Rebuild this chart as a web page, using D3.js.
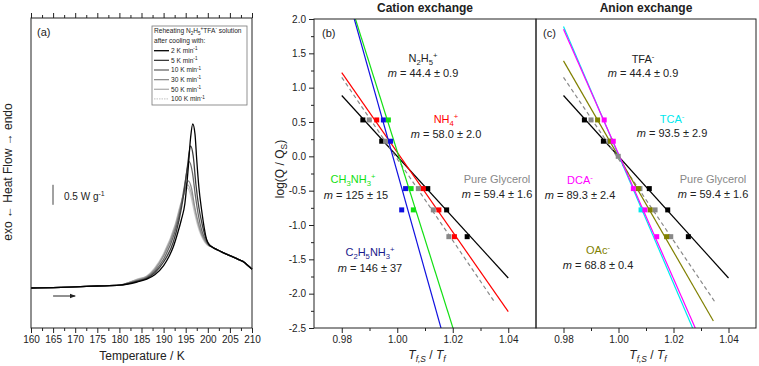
<!DOCTYPE html>
<html lang="en">
<head>
<meta charset="UTF-8">
<title>DSC reheating and ion exchange</title>
<script src="https://d3js.org/d3.v7.min.js"></script>
<style>
  body { margin: 0; background: #fff; }
  svg { font-family: "Liberation Sans", Arial, sans-serif; }
  .frame { fill: none; stroke: #222; stroke-width: 1; }
  .axis path { display: none; }
  .axis line { stroke: #222; }
  .axis text { font-size: 10px; fill: #222; font-family: "Liberation Sans", Arial, sans-serif; }
</style>
</head>
<body>
<svg id="chart" width="759" height="366"></svg>
<script>
    // ---- panel (a): DSC reheating curves, [T / K, heat flow / W g-1]
    const rateLabels = ["2", "5", "10", "30", "50", "100"];
    const tail = [[201.5, 0.99], [203, 0.91], [205, 0.81], [207, 0.71], [208.3, 0.64], [208.8, 0.59], [209.4, 0.53], [210, 0.47]];
    const curve2K = [[160, 0], [165, 0.01], [170, 0.03], [175, 0.05], [180, 0.07], [182, 0.1], [184, 0.15], [186.2, 0.22], [188, 0.33], [190, 0.56], [191.2, 0.78], [192.2, 1.03], [193.2, 1.38], [194, 1.7], [194.8, 2.1], [195.5, 2.9], [196.1, 3.75], [196.6, 4.1], [197.1, 3.85], [197.5, 3.2], [198, 2.5], [198.6, 1.95], [199.2, 1.5], [199.7, 1.22], [200.3, 1.08], [200.9, 1.03]];
    const curve5K = [[160, 0], [165, 0.01], [170, 0.03], [175, 0.05], [180, 0.07], [182, 0.11], [184, 0.17], [186.2, 0.24], [188, 0.38], [190, 0.65], [192.2, 1.15], [193.5, 1.7], [194.5, 2.3], [195.4, 3.05], [196.1, 3.55], [196.7, 3.3], [197.3, 2.6], [198, 2.0], [198.7, 1.6], [199.4, 1.3], [200.1, 1.12], [200.9, 1.03]];
    const curve10K = [[160, 0], [165, 0.01], [170, 0.03], [175, 0.05], [180, 0.07], [182, 0.12], [184, 0.18], [186.2, 0.26], [188, 0.42], [190, 0.72], [192.4, 1.35], [193.6, 1.85], [194.8, 2.6], [195.8, 3.16], [196.5, 2.9], [197.2, 2.3], [197.9, 1.8], [198.6, 1.45], [199.4, 1.22], [200.2, 1.08], [200.9, 1.03]];
    const curve30K = [[160, 0], [165, 0.01], [170, 0.03], [175, 0.05], [180, 0.07], [182, 0.13], [184, 0.2], [186.2, 0.28], [188, 0.46], [190, 0.8], [192.6, 1.5], [193.8, 2.0], [194.8, 2.45], [195.6, 2.68], [196.3, 2.5], [197, 2.05], [197.8, 1.65], [198.6, 1.35], [199.4, 1.18], [200.2, 1.07], [200.9, 1.03]];
    const curve50K = [[160, 0], [165, 0.01], [170, 0.03], [175, 0.05], [180, 0.07], [182, 0.13], [184, 0.21], [186.2, 0.29], [188, 0.48], [190, 0.83], [192.6, 1.55], [193.8, 2.05], [194.7, 2.4], [195.5, 2.58], [196.2, 2.4], [197, 1.98], [197.8, 1.6], [198.6, 1.33], [199.4, 1.16], [200.2, 1.06], [200.9, 1.03]];
    const curve100K = [[160, 0], [165, 0.01], [170, 0.03], [175, 0.05], [180, 0.07], [182, 0.13], [184, 0.22], [186.2, 0.3], [188, 0.5], [190, 0.86], [192.6, 1.58], [193.8, 2.08], [194.6, 2.35], [195.4, 2.5], [196.1, 2.33], [196.9, 1.93], [197.7, 1.57], [198.5, 1.31], [199.3, 1.15], [200.1, 1.06], [200.9, 1.03]];
    const dscCurves = [curve2K, curve5K, curve10K, curve30K, curve50K, curve100K].map(c => c.concat(tail));
    const tempTicks = d3.range(160, 211, 5);
    const scaleBarValue = 0.5;

    // ---- panels (b), (c): log(Q/QS) vs Tf,S/Tf ; fits given as slope and value at ratio = 1
    const ratioTicks = [0.98, 1.00, 1.02, 1.04];
    const logTicks = d3.range(-2.5, 2.01, 0.5);

    const cationSlopes = [-44.3, -59.4, -58.0, -128, -144];
    const cationAt1 = [0.0, -0.038, 0.058, 0.07, -0.23];
    const cationRange = [[0.98, 1.04], [0.98, 1.035], [0.98, 1.04], [0.98, 1.04], [0.98, 1.04]];
    const cationPoints = [
        [[0.9876, 0.53], [0.9944, 0.22], [1.0110, -0.47], [1.0178, -0.78], [1.0252, -1.17]],
        [[0.9899, 0.53], [0.9958, 0.22], [1.0076, -0.47], [1.0130, -0.78], [1.0186, -1.17]],
        [[0.9926, 0.53], [1.0094, -0.47], [1.0150, -0.78], [1.0206, -1.17]],
        [[0.9968, 0.53], [1.0050, -0.47], [1.0058, -0.78]],
        [[0.9950, 0.53], [0.9976, 0.22], [1.0030, -0.47], [1.0016, -0.78]]
    ];

    const anionSlopes = [-44.3, -59.4, -69.5, -93.5, -90.8];
    const anionAt1 = [0.0, -0.038, 0.0, 0.02, 0.034];
    const anionRange = [[0.98, 1.04], [0.98, 1.035], [0.98, 1.0345], [0.98, 1.04], [0.98, 1.04]];
    const anionPoints = [
        [[0.9876, 0.53], [0.9945, 0.22], [1.0112, -0.47], [1.0179, -0.78], [1.0254, -1.17]],
        [[0.9900, 0.53], [0.9965, 0.22], [0.9999, 0.0], [1.0078, -0.47], [1.0133, -0.78], [1.0190, -1.17]],
        [[0.9924, 0.53], [0.9971, 0.22], [1.0072, -0.47], [1.0115, -0.78], [1.0175, -1.17]],
        [[1.0082, -0.78]],
        [[0.9948, 0.53], [0.9981, 0.22], [1.0054, -0.47], [1.0096, -0.78], [1.0139, -1.17]]
    ];

    // ---- styles
    const rateColors = ["#000000", "#3c3c3c", "#686868", "#8e8e8e", "#b0b0b0", "#cdcdcd"];
    const cationColors = ["#000000", "#888888", "#ff0000", "#12e012", "#1010e0"];
    const anionColors = ["#000000", "#888888", "#808000", "#00e8ee", "#ff00ff"];

    const svg = d3.select("#chart");
    const line = d3.line().x(d => d[0]).y(d => d[1]);

    // text with sub/superscripts; parts are strings or [string, kind]
    function rich(text, parts, size) {
        let off = 0;
        parts.forEach(p => {
            const [str, kind] = Array.isArray(p) ? p : [p, ""];
            const target = kind.includes("sub") ? size * 0.28 : kind.includes("sup") ? -size * 0.4 : 0;
            const ts = text.append("tspan").text(str).attr("dy", target - off);
            if (target !== 0) ts.attr("font-size", size * 0.7);
            if (kind.includes("i")) ts.attr("font-style", "italic");
            off = target;
        });
        return text;
    }
    function label(x, y, parts, size, color, anchor) {
        const t = svg.append("text").attr("x", x).attr("y", y)
            .attr("font-size", size).attr("fill", color || "#222")
            .attr("text-anchor", anchor || "middle");
        return rich(t, parts, size);
    }

    // ================= panel (a)
    const xA = d3.scaleLinear([160, 210], [31, 252]);
    const yA = d3.scaleLinear([-1, 6.75], [328, 18]);

    svg.append("g").attr("class", "axis").attr("transform", "translate(0,328)")
        .call(d3.axisBottom(xA).tickValues(tempTicks).tickSize(5).tickPadding(3).tickFormat(d3.format("d")));
    svg.append("g").attr("class", "axis").attr("transform", "translate(0,328)")
        .call(d3.axisBottom(xA).tickValues(tempTicks.slice(0, -1).map(t => t + 2.5)).tickSize(3).tickFormat(""));
    svg.append("g").attr("class", "axis").attr("transform", "translate(0,18)")
        .call(d3.axisTop(xA).tickValues(tempTicks).tickSize(5).tickFormat(""));
    svg.append("g").attr("class", "axis").attr("transform", "translate(0,18)")
        .call(d3.axisTop(xA).tickValues(tempTicks.slice(0, -1).map(t => t + 2.5)).tickSize(3).tickFormat(""));

    const dscLine = d3.line().x(d => xA(d[0])).y(d => yA(d[1])).curve(d3.curveMonotoneX);
    for (let i = dscCurves.length - 1; i >= 0; i--) {
        svg.append("path").attr("d", dscLine(dscCurves[i]))
            .attr("fill", "none").attr("stroke", rateColors[i]).attr("stroke-width", 1.3);
    }
    svg.append("rect").attr("class", "frame").attr("x", 31).attr("y", 18).attr("width", 221).attr("height", 310);

    label(37, 36, ["(a)"], 11, "#222", "start");

    // scale bar
    const barX = 53, barBase = 2.08;
    svg.append("line").attr("x1", barX).attr("x2", barX)
        .attr("y1", yA(barBase)).attr("y2", yA(barBase + scaleBarValue))
        .attr("stroke", "#444").attr("stroke-width", 1);
    label(64, 200, ["0.5 W g", ["-1", "sup"]], 10, "#222", "start");

    // heating direction arrow
    svg.append("defs").append("marker").attr("id", "arr").attr("viewBox", "0 0 10 10")
        .attr("refX", 9).attr("refY", 5).attr("markerWidth", 6).attr("markerHeight", 6).attr("orient", "auto")
        .append("path").attr("d", "M0,1 L10,5 L0,9 z").attr("fill", "#222");
    svg.append("line").attr("x1", xA(165)).attr("x2", xA(170)).attr("y1", yA(-0.2)).attr("y2", yA(-0.2))
        .attr("stroke", "#222").attr("stroke-width", 1).attr("marker-end", "url(#arr)");

    // legend
    svg.append("rect").attr("x", 152).attr("y", 26).attr("width", 95).attr("height", 79)
        .attr("fill", "#fff").attr("stroke", "#777").attr("stroke-width", 0.8);
    label(154, 33, ["Reheating N", ["2", "sub"], "H", ["5", "sub"], ["+", "sup"], "TFA", ["-", "sup"], " solution"], 6.6, "#222", "start");
    label(154, 43, ["after cooling with:"], 6.6, "#222", "start");
    rateLabels.forEach((r, i) => {
        const y = 50.7 + i * 9.65;
        svg.append("line").attr("x1", 154).attr("x2", 169).attr("y1", y).attr("y2", y)
            .attr("stroke", rateColors[i]).attr("stroke-width", 1.3)
            .attr("stroke-dasharray", i === 5 ? "1.5,1" : null);
        label(171, y + 2.4, [r + " K min", ["-1", "sup"]], 6.6, "#222", "start");
    });

    svg.append("text").attr("x", 142).attr("y", 360).attr("text-anchor", "middle")
        .attr("font-size", 12).attr("fill", "#222").text("Temperature / K");
    svg.append("text").attr("transform", "translate(12,172) rotate(-90)").attr("text-anchor", "middle")
        .attr("font-size", 12).attr("fill", "#222").text("exo \u2190 Heat Flow \u2192 endo");

    // ================= panels (b) and (c)
    const yR = d3.scaleLinear([-2.5, 2.0], [328, 19]);
    const fmt2 = d => d.toFixed(2), fmt1 = d => d.toFixed(1);

    function ratioPanel(id, x0, x1, slopes, at1, ranges, points, colors, showY) {
        const xR = d3.scaleLinear([0.97, 1.05], [x0, x1]);
        svg.append("clipPath").attr("id", id).append("rect")
            .attr("x", x0).attr("y", 19).attr("width", x1 - x0).attr("height", 309);
        const g = svg.append("g").attr("clip-path", `url(#${id})`);
        slopes.forEach((m, i) => {
            const seg = ranges[i].map(r => [xR(r), yR(at1[i] + m * (r - 1))]);
            g.append("path").attr("d", line(seg)).attr("fill", "none")
                .attr("stroke", colors[i]).attr("stroke-width", 1.2)
                .attr("stroke-dasharray", i === 1 ? "4,3" : null);
        });
        points.forEach((pts, i) => {
            g.selectAll(null).data(pts).enter().append("rect")
                .attr("x", d => xR(d[0]) - 2.5).attr("y", d => yR(d[1]) - 2.5)
                .attr("width", 5).attr("height", 5).attr("fill", colors[i]);
        });
        svg.append("g").attr("class", "axis").attr("transform", "translate(0,328)")
            .call(d3.axisBottom(xR).tickValues(ratioTicks).tickSize(5).tickPadding(3).tickFormat(fmt2));
        svg.append("g").attr("class", "axis").attr("transform", "translate(0,328)")
            .call(d3.axisBottom(xR).tickValues([0.99, 1.01, 1.03]).tickSize(3).tickFormat(""));
        if (showY) {
            svg.append("g").attr("class", "axis").attr("transform", `translate(${x0},0)`)
                .call(d3.axisLeft(yR).tickValues(logTicks).tickSize(5).tickPadding(3).tickFormat(fmt1));
            svg.append("g").attr("class", "axis").attr("transform", `translate(${x0},0)`)
                .call(d3.axisLeft(yR).tickValues(logTicks.slice(0, -1).map(v => v + 0.25)).tickSize(3).tickFormat(""));
        }
        svg.append("rect").attr("class", "frame").attr("x", x0).attr("y", 19).attr("width", x1 - x0).attr("height", 309);
        const cx = (x0 + x1) / 2;
        label(cx + 2, 359, [["T", "i"], ["f,S", "isub"], " / ", ["T", "i"], ["f", "isub"]], 12, "#222");
    }

    ratioPanel("clipB", 314, 536, cationSlopes, cationAt1, cationRange, cationPoints, cationColors, true);
    ratioPanel("clipC", 536, 756, anionSlopes, anionAt1, anionRange, anionPoints, anionColors, false);

    svg.append("text").attr("transform", "translate(284,169) rotate(-90)").attr("text-anchor", "middle")
        .attr("font-size", 12).attr("fill", "#222")
        .call(t => rich(t, ["log(Q / Q", ["S", "sub"], ")"], 12));

    svg.append("text").attr("x", 425).attr("y", 12).attr("text-anchor", "middle")
        .attr("font-size", 12).attr("font-weight", "bold").attr("fill", "#222").text("Cation exchange");
    svg.append("text").attr("x", 646).attr("y", 12).attr("text-anchor", "middle")
        .attr("font-size", 12).attr("font-weight", "bold").attr("fill", "#222").text("Anion exchange");

    const mText = (v) => [["m", "i"], " = " + v];

    // panel (b) annotations
    label(322, 37, ["(b)"], 11, "#222", "start");
    label(423, 62, ["N", ["2", "sub"], "H", ["5", "sub"], ["+", "sup"]], 11, "#222");
    label(423, 77, mText("44.4 \u00b1 0.9"), 11, "#222");
    label(446, 123, ["NH", ["4", "sub"], ["+", "sup"]], 11, "#ff0000");
    label(446, 138, mText("58.0 \u00b1 2.0"), 11, "#222");
    label(353, 183, ["CH", ["3", "sub"], "NH", ["3", "sub"], ["+", "sup"]], 11, "#12e012");
    label(356, 199, mText("125 \u00b1 15"), 11, "#222");
    label(370, 256, ["C", ["2", "sub"], "H", ["5", "sub"], "NH", ["3", "sub"], ["+", "sup"]], 11, "#1a1a8c");
    label(370, 272, mText("146 \u00b1 37"), 11, "#222");
    label(497, 183, ["Pure Glycerol"], 11, "#888888");
    label(497, 198, mText("59.4 \u00b1 1.6"), 11, "#222");

    // panel (c) annotations
    label(543, 37, ["(c)"], 11, "#222", "start");
    label(643, 63, ["TFA", ["-", "sup"]], 11, "#222");
    label(643, 77, mText("44.4 \u00b1 0.9"), 11, "#222");
    label(672, 123, ["TCA", ["-", "sup"]], 11, "#00e8ee");
    label(672, 137, mText("93.5 \u00b1 2.9"), 11, "#222");
    label(580, 184, ["DCA", ["-", "sup"]], 11, "#ff00ff");
    label(580, 199, [["m", "i"], " = 89.3 ", "\u00b1 2.4"], 11, "#222");
    label(713, 183, ["Pure Glycerol"], 11, "#888888");
    label(713, 198, mText("59.4 \u00b1 1.6"), 11, "#222");
    label(598, 254, ["OAc", ["-", "sup"]], 11, "#808000");
    label(598, 269, mText("68.8 \u00b1 0.4"), 11, "#222");
</script>
</body>
</html>
